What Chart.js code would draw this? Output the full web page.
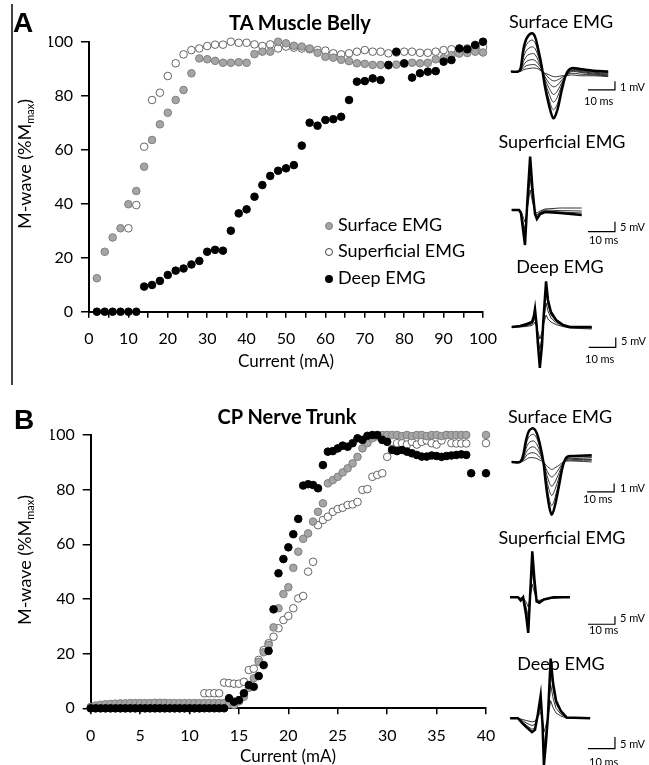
<!DOCTYPE html>
<html>
<head>
<meta charset="utf-8">
<script src="https://cdn.jsdelivr.net/npm/chart.js@4.4.1/dist/chart.umd.min.js"></script>
<style>
body { margin: 0; background: #fff; }
#page { position: relative; width: 649px; height: 765px; overflow: hidden; font-family: Lato, sans-serif; color: #000; }
#page canvas { position: absolute; }
.txt { position: absolute; transform: translate(-50%, -50%); line-height: 1; white-space: nowrap; }
.lbl { position: absolute; line-height: 1; white-space: nowrap; font-size: 11px; }
.panel { font-family: "Liberation Sans", Arial, sans-serif; font-weight: bold; font-size: 28px; }
.ttl { font-weight: bold; font-size: 20px; }
.ins { font-size: 18px; }
.ytitle { position: absolute; transform: translate(-50%, -50%) rotate(-90deg); line-height: 1; white-space: nowrap; font-size: 18px; }
.ytitle sub { font-size: 11px; vertical-align: -3px; }
.leg { position: absolute; font-size: 18px; line-height: 1; white-space: nowrap; }
.dot { display: inline-block; width: 8px; height: 8px; border-radius: 50%; margin-right: 5px; vertical-align: 1px; box-sizing: border-box; }
#vline { position: absolute; left: 11px; top: 4px; width: 1.5px; height: 381px; background: #444; }
</style>
</head>
<body>
<div id="page">
  <div id="vline"></div>

  <canvas id="chartA" width="500" height="380" style="left:0;top:0"></canvas>
  <canvas id="chartB" width="500" height="375" style="left:0;top:390px"></canvas>

  <canvas id="insA1" width="144" height="119" style="left:505px;top:29px"></canvas>
  <canvas id="insA2" width="144" height="100" style="left:505px;top:150px"></canvas>
  <canvas id="insA3" width="144" height="100" style="left:505px;top:277px"></canvas>
  <canvas id="insB1" width="144" height="109" style="left:505px;top:420px"></canvas>
  <canvas id="insB2" width="144" height="96" style="left:505px;top:546px"></canvas>
  <canvas id="insB3" width="144" height="121" style="left:505px;top:652.5px"></canvas>

  <div class="txt panel" style="left:23px;top:23px">A</div>
  <div class="txt panel" style="left:24px;top:420px">B</div>
  <div class="txt ttl" style="left:300px;top:22px">TA Muscle Belly</div>
  <div class="txt ttl" style="left:287px;top:416px">CP Nerve Trunk</div>
  <div class="txt" style="left:286px;top:360px;font-size:17px">Current (mA)</div>
  <div class="txt" style="left:288px;top:755px;font-size:17px">Current (mA)</div>
  <div class="ytitle" style="left:25px;top:164px">M-wave (%M<sub>max</sub>)</div>
  <div class="ytitle" style="left:25px;top:560px">M-wave (%M<sub>max</sub>)</div>

  <div class="leg" style="left:325px;top:215px"><span class="dot" style="background:#a5a5a5;border:1px solid #808080"></span>Surface EMG</div>
  <div class="leg" style="left:325px;top:241px"><span class="dot" style="background:#fff;border:1px solid #404040"></span>Superficial EMG</div>
  <div class="leg" style="left:325px;top:268px"><span class="dot" style="background:#000"></span>Deep EMG</div>

  <div class="txt ins" style="left:561px;top:21px">Surface EMG</div>
  <div class="txt ins" style="left:562px;top:141px">Superficial EMG</div>
  <div class="txt ins" style="left:560px;top:266px">Deep EMG</div>
  <div class="txt ins" style="left:560px;top:416px">Surface EMG</div>
  <div class="txt ins" style="left:562px;top:537px">Superficial EMG</div>
  <div class="txt ins" style="left:561px;top:663px">Deep EMG</div>

  <div class="lbl" style="left:620px;top:81px">1 mV</div>
  <div class="lbl" style="left:584px;top:95px">10 ms</div>
  <div class="lbl" style="left:620px;top:221px">5 mV</div>
  <div class="lbl" style="left:589px;top:234px">10 ms</div>
  <div class="lbl" style="left:621px;top:335px">5 mV</div>
  <div class="lbl" style="left:585px;top:353px">10 ms</div>
  <div class="lbl" style="left:620px;top:482px">1 mV</div>
  <div class="lbl" style="left:583px;top:493px">10 ms</div>
  <div class="lbl" style="left:620px;top:612px">5 mV</div>
  <div class="lbl" style="left:589px;top:624px">10 ms</div>
  <div class="lbl" style="left:620px;top:738px">5 mV</div>
  <div class="lbl" style="left:589px;top:756px">10 ms</div>
</div>

<script>
/* ---- Panel A : TA muscle belly ---- */
const aCurrent = [2, 4, 6, 8, 10, 12, 14, 16, 18, 20, 22, 24, 26, 28, 30, 32, 34, 36, 38, 40,
    42, 44, 46, 48, 50, 52, 54, 56, 58, 60, 62, 64, 66, 68, 70, 72, 74, 76, 78, 80,
    82, 84, 86, 88, 90, 92, 94, 96, 98, 100];
const aSurface = [12.4, 22.2, 27.5, 30.9, 39.8, 44.7, 53.7, 63.6, 69.4, 73.7, 78.4, 82.1, 88.3, 93.8, 93.5, 92.9, 92.2, 92.2, 92.4, 92.2,
    95.4, 96.3, 96.3, 100, 99.4, 98.5, 98.2, 97.5, 95.9, 94.4, 94.1, 93.3, 92.8, 92, 91.8, 91.4, 91.4, 91.2, 91.5, 91.8,
    92.2, 92, 92.2, 93.5, 93.9, 95, 95.6, 95.8, 96.3, 96];
const aSuperficial = [null, null, null, null, 30.9, 39.5, 61.1, 78.4, 81.1, 87.3, 92, 95.3, 96.9, 97.5, 98.4, 98.9, 98.9, 100, 99.6, 99.6,
    99, 98.4, 99, 97.5, 98.2, 97.8, 97.5, 97.2, 96.9, 96.7, 95.7, 95.3, 95.7, 96.3, 96.9, 96.3, 96.3, 95.7, 96, 96.3,
    96.3, 95.9, 95.9, 96.3, 96.9, 97.2, 97.2, 97.5, 97.8, 98];
const aDeep = [0, 0, 0, 0, 0, 0, 9.3, 9.9, 11.4, 13.6, 15.2, 16, 17.5, 18.8, 22.2, 22.9, 22.6, 30, 36.4, 37.9,
    42.6, 46.9, 50.3, 52.2, 53.1, 54.3, 61.5, 70, 68.9, 71, 71.3, 72.2, 78.4, 85.2, 85.4, 86.4, 85.8, 91.4, 96.3, 92,
    86.7, 88.3, 88.9, 89.1, 92.6, 93.2, 97.5, 97.2, 98.8, 100];
const aTickMarks = [0, 5, 10, 15, 20, 25, 30, 35, 40, 45, 50, 55, 60, 65, 70, 75, 80, 85, 90, 95, 100];
const aTickLabels = [0, 10, 20, 30, 40, 50, 60, 70, 80, 90, 100];

/* ---- Panel B : CP nerve trunk ---- */
const bCurrent = [0, 0.5, 1, 1.5, 2, 2.5, 3, 3.5, 4, 4.5, 5, 5.5, 6, 6.5, 7, 7.5, 8, 8.5, 9, 9.5,
    10, 10.5, 11, 11.5, 12, 12.5, 13, 13.5, 14, 14.5, 15, 15.5, 16, 16.5, 17, 17.5, 18, 18.5, 19, 19.5,
    20, 20.5, 21, 21.5, 22, 22.5, 23, 23.5, 24, 24.5, 25, 25.5, 26, 26.5, 27, 27.5, 28, 28.5, 29, 29.5,
    30, 30.5, 31, 31.5, 32, 32.5, 33, 33.5, 34, 34.5, 35, 35.5, 36, 36.5, 37, 37.5, 38, 38.5, 40];
const bSurface = [0.5, 1, 1.3, 1.5, 1.6, 1.7, 1.8, 1.8, 1.9, 1.9, 1.9, 1.9, 1.9, 2, 2, 2, 1.9, 1.9, 1.9, 1.9,
    1.9, 1.9, 1.9, 1.9, 1.9, 1.9, 1.9, 1.9, 1.5, 1.2, 2.5, 4.2, 7.5, 11, 17, 20.5, 23.2, 29.6, 36.6, 41.8,
    44.3, 51.4, 57.3, 62, 64, 68.3, 71.9, 75, 82.3, 83.5, 84.7, 86.3, 87.8, 89.6, 92, 95.1, 97, 98.8, 99.5, 100,
    100, 100, 100, 99.6, 100, 99.6, 100, 100, 99.6, 100, 100, 99.6, 100, 100, 100, 100, 100, null, 100];
const bSuperficial = [0, 0, 0, 0, 0, 0, 0, 0, 0, 0, 0, 0, 0, 0, 0, 0, 0, 0, 0, 0,
    0, 0, 0, 5.5, 5.5, 5.5, 5.5, 9.4, 9.2, 9, 9, 9.7, 14, 14.5, 17.7, 21.3, 23.8, 26.2, 29.3, 32.3,
    33.8, 36.6, 40.2, 41.1, 50, 53.6, 67, 68.9, 70.1, 71.9, 72.9, 73.4, 74.4, 74.6, 75.5, 79.9, 80.2, 84.7, 85.4, 86,
    92, 94.9, 97, 97, 96.5, 97.5, 96.5, 97.5, 98, 97, 96.5, 98, 100, 97, 96.9, 96.9, 96.9, null, 97];
const bDeep = [0, 0, 0, 0, 0, 0, 0, 0, 0, 0, 0, 0, 0, 0, 0, 0, 0, 0, 0, 0,
    0, 0, 0, 0, 0, 0, 0, 0, 3.7, 2.4, 3, 5.5, 8.5, 7.9, 11.8, 15.8, 21, 36.2, 49.4, 54.6,
    58.9, 63.7, 69.3, 81.5, 82, 81.7, 80.5, 89, 93.9, 94.1, 95.1, 96.1, 95.7, 97, 98.8, 98.2, 99.7, 100, 100, 98.2,
    97.5, 94.5, 94.1, 94.5, 93.9, 93.3, 92.7, 92.1, 92.1, 92.5, 92.3, 92, 92.3, 92.5, 92.7, 92.9, 92.7, 86, 86];
const bTickMarks = [0, 5, 10, 15, 20, 25, 30, 35, 40];
const bTickLabels = [0, 5, 10, 15, 20, 25, 30, 35, 40];
const yTickLabels = [0, 20, 40, 60, 80, 100];

/* ---- EMG insets (ms / mV) ---- */
const aSurfMs = [2.2, 4.9, 5.8, 6.8, 8.0, 9.9, 11.1, 12.3, 13.6, 14.8, 16.4, 17.9, 19.4, 21.0, 22.8, 24.7, 27.8, 32.7, 38.2];
const aSurfMv = [
    [0, 0, 0.4, 2.6, 3.9, 4.5, 4.1, 2.6, 0.6, -1.8, -4.1, -5.5, -4.5, -2.2, -0.2, 0.4, 0.3, 0.1, 0],
    [0, 0, 0.3, 2.1, 3.2, 3.7, 3.4, 2.2, 0.5, -1.5, -3.4, -4.5, -3.8, -1.9, -0.3, 0.3, 0.2, 0, -0.1],
    [0, 0, 0.2, 1.6, 2.5, 2.9, 2.7, 1.8, 0.4, -1.2, -2.7, -3.6, -3.0, -1.6, -0.3, 0.2, 0.1, -0.1, -0.2],
    [0, 0, 0.2, 1.1, 1.8, 2.1, 2.0, 1.3, 0.3, -0.9, -2.0, -2.7, -2.3, -1.3, -0.4, 0.1, 0, -0.2, -0.3],
    [0, 0, 0.1, 0.7, 1.2, 1.4, 1.3, 0.9, 0.2, -0.6, -1.4, -1.8, -1.6, -1.0, -0.4, 0, -0.1, -0.3, -0.4],
    [0, 0, 0.1, 0.4, 0.7, 0.8, 0.8, 0.5, 0.1, -0.3, -0.8, -1.1, -1.0, -0.7, -0.4, -0.2, -0.3, -0.4, -0.5],
    [0, 0, 0, 0.2, 0.3, 0.4, 0.4, 0.3, 0, -0.2, -0.4, -0.6, -0.6, -0.5, -0.5, -0.4, -0.5, -0.5, -0.6]
];
const aSupMs = [2.5, 5.2, 5.9, 7.4, 8.3, 9.3, 10.2, 11.1, 11.8, 13.0, 14.8, 20.4, 28.4];
const aSupMv = [
    [0, 0, -1.5, -17.5, 5, 26.7, 10, -2, -4.5, -2, -1, -1.5, -2.5],
    [0, 0, -1.2, -14, 3, 22, 8, -1.5, -3.5, -1.5, -0.5, -1, -1.5],
    [0, 0, -1, -10, 2, 16, 6, -1, -2.5, -1, 0, -0.3, -0.5],
    [0, 0, -0.5, -6, 1, 10, 4, -0.5, -1.5, -0.5, 0.5, 1, 1]
];
const aDeepMs = [2.5, 5.6, 8.1, 10, 10.7, 11.1, 11.7, 12.2, 12.9, 13.7, 14.2, 15.2, 15.9, 17, 18.9, 21.5, 24, 32.1];
const aDeepMv = [
    [0, 0.5, 1.5, 2.5, 5.5, 9, 1, -9, -20.5, -9, 3.5, 22.8, 13.5, 7.5, 3.5, 1, 0, 0],
    [0, 0.3, 1, 2, 4.5, 7.5, 0.5, -7, -16, -7, 3, 18, 11, 6, 3, 0.8, 0, -0.3],
    [0, 0.2, 0.7, 1.5, 3, 5, 0, -5, -11, -5, 2, 12, 8, 4.5, 2.2, 0.5, -0.3, -0.5],
    [0, 0, 0.3, 0.8, 1.5, 2.5, 0, -2.5, -6, -2.5, 1, 6, 4, 2.5, 1.2, 0.2, -0.5, -1]
];
const bSurfMs = [2.5, 5.6, 6.7, 7.8, 8.9, 10.5, 11.8, 13, 14.2, 15.2, 16.3, 17.3, 18.5, 20, 21.5, 22.9, 25.9, 32.1];
const bSurfMv = [
    [0, 0, 0.8, 2.6, 3.7, 4.0, 3.4, 2.0, 0, -2.8, -5.2, -6.3, -5.2, -2.8, -0.4, 0.6, 0.7, 0.8],
    [0, 0, 0.6, 2.1, 3.0, 3.3, 2.8, 1.6, 0, -2.3, -4.3, -5.2, -4.3, -2.3, -0.3, 0.5, 0.6, 0.6],
    [0, 0, 0.5, 1.6, 2.3, 2.5, 2.1, 1.2, 0, -1.8, -3.3, -4.0, -3.3, -1.8, -0.2, 0.4, 0.4, 0.5],
    [0, 0, 0.3, 1.1, 1.6, 1.8, 1.5, 0.9, 0, -1.2, -2.4, -2.9, -2.4, -1.3, -0.2, 0.3, 0.3, 0.3],
    [0, 0, 0.2, 0.7, 1.0, 1.1, 0.9, 0.5, 0, -0.8, -1.5, -1.8, -1.5, -0.8, -0.1, 0.2, 0.2, 0.2],
    [0, 0, 0.1, 0.3, 0.5, 0.5, 0.4, 0.2, 0, -0.4, -0.7, -0.9, -0.7, -0.4, 0, 0.1, 0.1, 0]
];
const bSupMs = [1.9, 4.8, 5.8, 6.7, 7.8, 8.6, 9.4, 10.1, 10.9, 11.7, 12.7, 14.4, 17.9, 24];
const bSupMv = [
    [0, 0, -2, 0, -11, -22.3, 4.8, 28.7, 11, -2.7, -3.5, -1.4, 0, 0],
    [0, 0, -1.5, 0, -9, -18, 3, 23, 9, -2.5, -3, -1.5, -0.3, 0],
    [0, 0, -1, 0, -6, -12, 2, 16, 6, -2, -2.5, -1.5, -0.5, 0],
    [0, 0, -0.5, 0, -3, -6, 1, 8, 3, -1.5, -2, -1.2, -0.5, 0]
];
const bDeepMs = [1.9, 4.8, 6.3, 8.1, 10, 11.1, 12.2, 13.2, 13.9, 14.4, 15.2, 15.9, 16.9, 17.8, 18.9, 20.7, 22.8, 31.5];
const bDeepMv = [
    [0, 0, -2, -4, -6, -5, 2, 9.7, -3, -20.3, -10, 1, 25.6, 15, 7.5, 3, 0.3, 0],
    [0, 0, -1.6, -3.2, -4.8, -4, 1.5, 8, -2.5, -17, -8, 0.8, 21, 12.5, 6, 2.5, 0.2, 0],
    [0, 0, -1, -2.2, -3.2, -2.7, 1, 5.5, -1.5, -12, -5.5, 0.5, 14.5, 8.5, 4.2, 1.7, 0.1, 0],
    [0, 0, -0.5, -1.1, -1.6, -1.3, 0.5, 2.8, -0.8, -6, -2.8, 0.3, 7.5, 4.5, 2.2, 0.9, 0, 0]
];
// scale bars : 10 ms horizontal, 1 or 5 mV vertical
const barA1Ms = [30.7, 40.7, 40.7], barA1Mv = [-2.15, -2.15, -1.15];
const barA2Ms = [30.7, 40.7, 40.7], barA2Mv = [-10.85, -10.85, -5.85];
const barA3Ms = [31, 41, 41], barA3Mv = [-10.2, -10.2, -5.2];
const barB1Ms = [30.4, 40.4, 40.4], barB1Mv = [-3.57, -3.57, -2.57];
const barB2Ms = [30.7, 40.7, 40.7], barB2Mv = [-16.9, -16.9, -11.9];
const barB3Ms = [30.7, 40.7, 40.7], barB3Mv = [-13.1, -13.1, -8.1];


Chart.defaults.font.family = 'Lato';
Chart.defaults.color = '#000';

function pairs(xs, ys) {
    return xs.map(function(x, i) { return { x: x, y: ys[i] }; });
}

function mainChart(id, xs, surf, sup, deep, xMax, marks, labels, pad) {
    new Chart(document.getElementById(id), {
        type: 'scatter',
        data: {
            datasets: [
                { label: 'Deep EMG', data: pairs(xs, deep), order: 0, clip: false,
                  backgroundColor: '#000', borderColor: '#000', borderWidth: 1, pointRadius: 3.8 },
                { label: 'Surface EMG', data: pairs(xs, surf), order: 1, clip: false,
                  backgroundColor: '#a5a5a5', borderColor: '#7f7f7f', borderWidth: 1, pointRadius: 3.8 },
                { label: 'Superficial EMG', data: pairs(xs, sup), order: 2, clip: false,
                  backgroundColor: '#fff', borderColor: '#404040', borderWidth: 0.8, pointRadius: 3.8 }
            ]
        },
        options: {
            responsive: false,
            animation: false,
            events: [],
            layout: { padding: pad },
            plugins: { legend: { display: false }, tooltip: { enabled: false } },
            scales: {
                x: {
                    type: 'linear', min: 0, max: xMax,
                    afterBuildTicks: function(axis) { axis.ticks = marks.map(function(v) { return { value: v }; }); },
                    afterFit: function(axis) { axis.height = 35; axis.paddingLeft = 0; axis.paddingRight = 0; },
                    ticks: { font: { size: 16 }, padding: 12, maxRotation: 0, autoSkip: false,
                             callback: function(v) { return labels.indexOf(v) >= 0 ? v : ''; } },
                    grid: { drawOnChartArea: false, drawTicks: true, tickLength: 6, color: '#000', lineWidth: 1.5 },
                    border: { display: true, color: '#000', width: 2 }
                },
                y: {
                    min: 0, max: 100,
                    afterBuildTicks: function(axis) { axis.ticks = yTickLabels.map(function(v) { return { value: v }; }); },
                    afterFit: function(axis) { axis.width = 40; axis.paddingTop = 0; axis.paddingBottom = 0; },
                    ticks: { font: { size: 16 }, padding: 8 },
                    grid: { drawOnChartArea: false, drawTicks: true, tickLength: 8, color: '#000', lineWidth: 1.5 },
                    border: { display: true, color: '#000', width: 2 }
                }
            }
        }
    });
}

mainChart('chartA', aCurrent, aSurface, aSuperficial, aDeep, 100, aTickMarks, aTickLabels,
    { left: 49, right: 17, top: 41.7, bottom: 33.3 });
mainChart('chartB', bCurrent, bSurface, bSuperficial, bDeep, 40, bTickMarks, bTickLabels,
    { left: 50.7, right: 14, top: 45, bottom: 21.7 });

function inset(id, ms, traces, barMs, barMv, yMin, yMax, tension) {
    var sets = traces.map(function(t, i) {
        return { data: pairs(ms, t), showLine: true, pointRadius: 0, tension: tension,
                 borderColor: '#000', borderWidth: i === 0 ? 2.5 : 0.8 };
    });
    sets.push({ data: pairs(barMs, barMv), showLine: true, pointRadius: 0, tension: 0,
                borderColor: '#000', borderWidth: 1.2 });
    new Chart(document.getElementById(id), {
        type: 'scatter',
        data: { datasets: sets },
        options: {
            responsive: false,
            animation: false,
            events: [],
            layout: { padding: 0 },
            plugins: { legend: { display: false }, tooltip: { enabled: false } },
            scales: {
                x: { display: false, min: 0, max: 53.3 },
                y: { display: false, min: yMin, max: yMax }
            }
        }
    });
}

inset('insA1', aSurfMs, aSurfMv, barA1Ms, barA1Mv, -9, 5, 0.35);
inset('insA2', aSupMs, aSupMv, barA2Ms, barA2Mv, -20, 30, 0);
inset('insA3', aDeepMs, aDeepMv, barA3Ms, barA3Mv, -25, 25, 0);
inset('insB1', bSurfMs, bSurfMv, barB1Ms, barB1Mv, -8, 5, 0.35);
inset('insB2', bSupMs, bSupMv, barB2Ms, barB2Mv, -28, 32, 0);
inset('insB3', bDeepMs, bDeepMv, barB3Ms, barB3Mv, -24, 28, 0);
</script>
</body>
</html>
